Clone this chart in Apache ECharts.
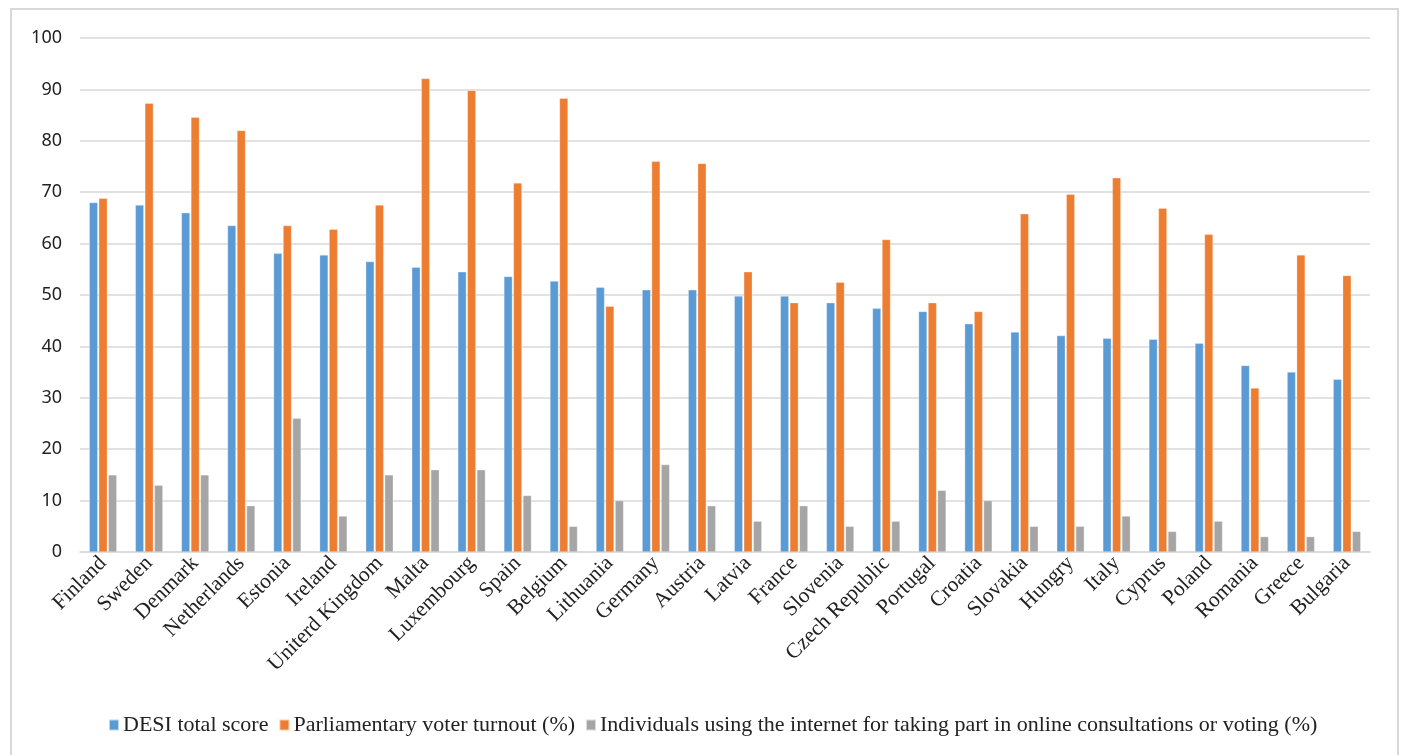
<!DOCTYPE html>
<html>
<head>
<meta charset="utf-8">
<script src="https://cdn.jsdelivr.net/npm/echarts@6/dist/echarts.min.js"></script>
<style>
html,body{margin:0;padding:0;background:#fff;}
#chart{width:1401px;height:755px;}
</style>
</head>
<body>
<div id="chart"></div>
<script>
const categories = ["Finland","Sweden","Denmark","Netherlands","Estonia","Ireland","Uniterd Kingdom","Malta","Luxembourg","Spain","Belgium","Lithuania","Germany","Austria","Latvia","France","Slovenia","Czech Republic","Portugal","Croatia","Slovakia","Hungry","Italy","Cyprus","Poland","Romania","Greece","Bulgaria"];
const desiScore = [68.0,67.5,66.0,63.5,58.1,57.8,56.5,55.4,54.5,53.6,52.7,51.5,51.0,51.0,49.8,49.8,48.5,47.4,46.8,44.4,42.8,42.1,41.6,41.4,40.6,36.3,35.0,33.6];
const voterTurnout = [68.8,87.3,84.6,82.0,63.5,62.8,67.5,92.1,89.8,71.8,88.3,47.8,76.0,75.6,54.5,48.5,52.5,60.8,48.5,46.8,65.8,69.6,72.8,66.9,61.8,31.9,57.8,53.8];
const onlineParticipation = [15,13,15,9,26,7,15,16,16,11,5,10,17,9,6,9,5,6,12,10,5,5,7,4,6,3,3,4];
const seriesNames = ["DESI total score","Parliamentary voter turnout (%)","Individuals using the internet for taking part in online consultations or voting (%)"];
const yTicks = {min:0,max:100,interval:10};

const chart = echarts.init(document.getElementById('chart'), null, {renderer:'canvas'});
const serif = '"Liberation Serif","Times New Roman",serif';
const colors = ['#5B9BD5','#ED7D31','#A5A5A5'];
const mk = (name, data, i) => ({
  name, type:'bar', data,
  barWidth: 8.5,
  barGap: '12%',
  itemStyle:{color:colors[i], borderColor:'rgba(255,255,255,0.6)', borderWidth:0.5},
  emphasis:{disabled:true}
});
chart.setOption({
  animation:false,
  color: colors,
  graphic:[{type:'rect', shape:{x:11,y:9,width:1387,height:760}, style:{fill:null, stroke:'#d9d9d9', lineWidth:2}, silent:true}],
  grid:{left:80,right:31,top:38,bottom:203},
  legend:{
    bottom:14, left:103,
    itemWidth:10, itemHeight:11, itemGap:10,
    icon:'rect',
    textStyle:{fontFamily:serif, fontSize:22, color:'#222', padding:[0,0,0,-1]},
    data: seriesNames
  },
  xAxis:{
    type:'category', data:categories,
    axisTick:{show:false},
    axisLine:{show:true, lineStyle:{color:'#d9d9d9', width:1.5}},
    axisLabel:{interval:0, rotate:45, margin:8, fontFamily:serif, fontSize:21.5, color:'#222'}
  },
  yAxis:{
    type:'value', min:yTicks.min, max:yTicks.max, interval:yTicks.interval,
    axisLine:{show:false}, axisTick:{show:false},
    splitLine:{lineStyle:{color:'#d9d9d9', width:1.5}},
    axisLabel:{margin:18, fontFamily:'"Noto Sans",sans-serif', fontSize:18, color:'#222'}
  },
  series:[mk(seriesNames[0],desiScore,0), mk(seriesNames[1],voterTurnout,1), mk(seriesNames[2],onlineParticipation,2)]
});
</script>
</body>
</html>
